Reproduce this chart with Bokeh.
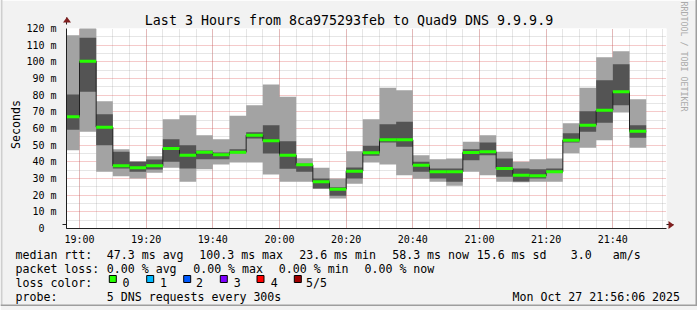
import math
import pandas as pd
from bokeh.plotting import figure
from bokeh.models import Range1d, FixedTicker, DatetimeTickFormatter
from bokeh.core.properties import value
from bokeh.embed import file_html
from bokeh.resources import INLINE

# ---------------- data ----------------
DAY = "2025-10-27 "
slot_start = ["18:55", "19:00", "19:05", "19:10", "19:15", "19:20", "19:25", "19:30", "19:35",
              "19:40", "19:45", "19:50", "19:55", "20:00", "20:05", "20:10", "20:15", "20:20",
              "20:25", "20:30", "20:35", "20:40", "20:45", "20:50", "20:55", "21:00", "21:05",
              "21:10", "21:15", "21:20", "21:25", "21:30", "21:35", "21:40", "21:45"]
ping_max = [116, 121, 76.4, 47.6, 40.4, 43.4, 65.6, 68, 56, 53.6, 67.6, 74, 86.4, 79, 42.2, 36.4,
            30, 46.4, 65.6, 84.4, 83, 44, 41.6, 42, 52, 56, 46, 40, 41.6, 42, 63.2, 84.4, 102.8,
            106.4, 77.6]
ping_p4 = [80.4, 114.4, 68.6, 46, 40, 41.4, 53.6, 50, 46.8, 45.6, 47.6, 57.8, 62, 52.4, 38.8, 30,
           24.8, 36.6, 49.6, 62.6, 64, 40, 36, 36, 47.6, 51.6, 42, 36, 35.6, 36, 57.2, 70.4, 89,
           98.6, 62]
ping_median = [67, 100.3, 60.8, 37.6, 36.4, 37.6, 48, 44, 45.8, 44.2, 45.8, 56, 52.6, 44, 38.2, 28,
               23.6, 34.4, 45.4, 53.2, 53.2, 38, 34, 34, 45.6, 46, 36, 32, 31.6, 34, 53, 62, 71,
               82, 58.3]
ping_p2 = [59.2, 82, 50, 36, 34, 35.4, 40, 36, 41.6, 41.6, 45.2, 54, 45, 35.8, 34, 24, 19.6, 30,
           43.6, 51.6, 49, 34, 30, 28, 41, 44, 31, 28.2, 30, 33.5, 51.6, 58, 63.4, 74, 54.4]
ping_min = [47, 58, 34, 31.4, 30, 33.4, 36.4, 28, 35.6, 38.4, 39.6, 39.6, 32.4, 28, 28, 23.8, 18,
            26.8, 39.6, 38.4, 32, 29.8, 28, 25.6, 34, 32, 28, 27.8, 28, 28, 45.2, 48.4, 53, 69.6,
            48.4]

x_tick_labels = ["19:00", "19:20", "19:40", "20:00", "20:20", "20:40", "21:00", "21:20", "21:40"]
y_ticks = [0, 10, 20, 30, 40, 50, 60, 70, 80, 90, 100, 110, 120]
y_tick_labels = ["0\u00a0\u00a0", "10 m", "20 m", "30 m", "40 m", "50 m", "60 m", "70 m", "80 m",
                 "90 m", "100 m", "110 m", "120 m"]

title_text = "Last 3 Hours from 8ca975293feb to Quad9 DNS 9.9.9.9"
y_label = "Seconds"
watermark = "RRDTOOL / TOBI OETIKER"
window_start = DAY + "18:56:06"
window_end = DAY + "21:56:06"
step_minutes = 5

loss_labels = ["0", "1", "2", "3", "4", "5/5"]
loss_colors = ["#26ff00", "#00b8ff", "#0059ff", "#7e00ff", "#ff0000", "#a00000"]

stats_rtt = ["47.3 ms avg", "100.3 ms max", "23.6 ms min", "58.3 ms now", "15.6 ms sd", "3.0", "am/s"]
stats_loss = ["0.00 % avg", "0.00 % max", "0.00 % min", "0.00 % now"]
probe_text = "5 DNS requests every 300s"
stamp_text = "Mon Oct 27 21:56:06 2025"

FONT = "DejaVu Sans Mono"

# ---------------- main chart ----------------
def ms(ts):
    return (ts - pd.Timestamp("1970-01-01")) // pd.Timedelta(milliseconds=1)

starts = [pd.Timestamp(DAY + s) for s in slot_start]
ends = [s + pd.Timedelta(minutes=step_minutes) for s in starts]
xs = starts + [ends[-1]]
t0 = pd.Timestamp(window_start)
t1 = pd.Timestamp(window_end)

x_major = [ms(pd.Timestamp(DAY + t)) for t in x_tick_labels]
x_minor = [ms(starts[0] + pd.Timedelta(minutes=step_minutes * k)) for k in range(40)]
y_minor = [v + 5 for v in y_ticks[:-1]]

p = figure(frame_width=600, frame_height=200, x_axis_type="datetime",
           x_range=Range1d(t0, t1), y_range=Range1d(0, 120),
           output_backend="svg", toolbar_location=None, title=None,
           min_border_left=66, min_border_right=31, min_border_top=28, min_border_bottom=82,
           background_fill_color="white", border_fill_color="#f2f2f2", outline_line_color=None)

xt = FixedTicker(ticks=x_major, minor_ticks=x_minor)
yt = FixedTicker(ticks=y_ticks, minor_ticks=y_minor)
p.xaxis.ticker = xt
p.xgrid.ticker = xt
p.yaxis.ticker = yt
p.ygrid.ticker = yt
p.xaxis.formatter = DatetimeTickFormatter(minutes="%H:%M", hourmin="%H:%M", hours="%H:%M",
                                          minsec="%H:%M", seconds="%H:%M")
p.yaxis.major_label_overrides = {v: l for v, l in zip(y_ticks, y_tick_labels)}

for g in (p.xgrid, p.ygrid):
    g.grid_line_color = "#de4f4f"
    g.grid_line_alpha = 0.6
    g.grid_line_dash = "1 1"
    g.minor_grid_line_color = "#8f8f8f"
    g.minor_grid_line_alpha = 0.45
    g.minor_grid_line_dash = "1 1"

for ax in (p.xaxis, p.yaxis):
    ax.axis_line_color = "#1f1f1f"
    ax.major_tick_out = 0
    ax.major_tick_in = 0
    ax.minor_tick_line_color = None
    ax.major_tick_line_color = None
    ax.major_label_text_font = FONT
    ax.major_label_text_font_size = "10px"
    ax.major_label_text_color = "black"
p.yaxis.major_label_standoff = 6
p.xaxis.major_label_standoff = 1

# smoke (min..max light, 2nd..4th dark), median
p.varea_step(x=xs, y1=ping_min + [ping_min[-1]], y2=ping_max + [ping_max[-1]],
             step_mode="after", fill_color="#a3a3a3")
p.varea_step(x=xs, y1=ping_p2 + [ping_p2[-1]], y2=ping_p4 + [ping_p4[-1]],
             step_mode="after", fill_color="#545454")
p.step(x=xs, y=ping_median + [ping_median[-1]], mode="after", line_color="#202020", line_width=1)
p.segment(x0=starts, x1=ends, y0=ping_median, y1=ping_median, line_color=loss_colors[0],
          line_width=3)

# ---------------- decoration overlay (pixel space, transparent) ----------------
ov = figure(width=697, height=310, x_range=Range1d(0, 697), y_range=Range1d(310, 0),
            min_border=0, toolbar_location=None, output_backend="svg",
            x_axis_location=None, y_axis_location=None, title=None,
            background_fill_color=None, border_fill_color=None, outline_line_color=None,
            styles={"position": "absolute", "top": "-4px", "left": "0px"})
ov.xgrid.visible = False
ov.ygrid.visible = False

# 3d frame
ov.quad(left=[0, 0], right=[697, 2], top=[0, 0], bottom=[2, 310], fill_color="#cfcfcf", line_color=None)
ov.quad(left=[0, 695], right=[697, 697], top=[308, 0], bottom=[310, 310], fill_color="#9e9e9e", line_color=None)

# axis extensions and arrows
ov.segment(x0=[66, 66, 62, 666], y0=[21, 228, 228, 228], x1=[66, 66, 66, 673], y1=[28, 232, 228, 228],
           line_color="#1f1f1f", line_width=1)
ov.patches(xs=[[62.5, 70.5, 66.5], [668, 668, 673.5]], ys=[[26, 26, 20.5], [224.5, 232.5, 228.5]],
           fill_color="#801f1f", line_color=None)

# title and side texts
ov.text(x=[348.5], y=[23.5], text=[title_text], text_font=value(FONT), text_font_size="13.3px",
        text_align="center", text_baseline="alphabetic", text_color="black")
ov.text(x=[15], y=[128], text=[y_label], angle=math.pi / 2, text_font=value(FONT),
        text_font_size="11.6px", text_align="center", text_baseline="alphabetic", text_color="black")
ov.text(x=[683], y=[5], text=[watermark], angle=-math.pi / 2, text_font=value(FONT),
        text_font_size="8.3px", text_align="left", text_baseline="alphabetic", text_color="#aaaaaa")

# legend
rows = [258.3, 272.3, 286.3, 300.3]
pieces = [("median rtt:", 15.0, rows[0])]
pieces += list(zip(stats_rtt, [106.3, 198.8, 298.7, 391.7, 476.2, 570.3, 612.3], [rows[0]] * 7))
pieces += [("packet loss:", 15.0, rows[1])]
pieces += list(zip(stats_loss, [106.3, 192.7, 278.3, 364.0], [rows[1]] * 4))
pieces += [("loss color:", 15.0, rows[2])]
pieces += list(zip(loss_labels, [122.1, 159.6, 195.6, 233.2, 270.3, 305.6], [rows[2]] * 6))
pieces += [("probe:", 15.0, rows[3]), (probe_text, 106.3, rows[3]), (stamp_text, 512.0, rows[3])]

ov.text(x=[q[1] for q in pieces], y=[q[2] for q in pieces], text=[q[0] for q in pieces],
        text_font=value(FONT), text_font_size="11.6px", text_baseline="alphabetic",
        text_align="left", text_color="black")
sq_outer = [108.3, 145.7, 182.7, 219.3, 256.0, 293.3]
ov.quad(left=[v + 0.5 for v in sq_outer], right=[v + 7.5 for v in sq_outer],
        top=[279] * 6, bottom=[286] * 6, fill_color=loss_colors, line_color="black", line_width=1)

open("out.html", "w").write(file_html([p, ov], INLINE))
